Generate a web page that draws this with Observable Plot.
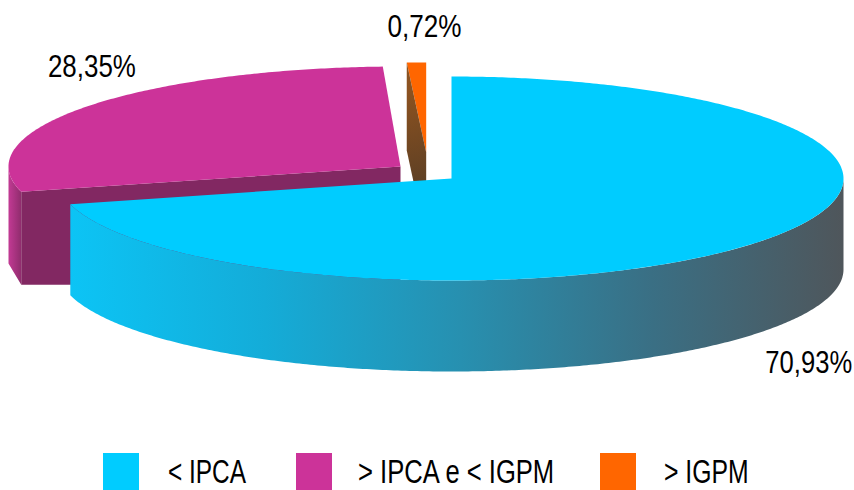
<!DOCTYPE html>
<html><head><meta charset="utf-8">
<script src="https://cdn.jsdelivr.net/npm/d3@7"></script>
<script src="https://cdn.jsdelivr.net/npm/@observablehq/plot@0.6"></script>
<style>
html,body{margin:0;padding:0;background:#fff;overflow:hidden;width:854px;height:490px}
#legend{position:relative;height:45px;width:854px;font-family:"Liberation Sans",sans-serif;color:#000}
#legend i{position:absolute;top:8px;width:36px;height:37px;display:block}
#legend span{position:absolute;top:10px;font-size:33px;line-height:33px;height:33px;white-space:pre;transform-origin:0 0}
</style></head><body>
<div id="chart"></div><div id="legend"></div>
<script>
const categories = ["< IPCA", "> IPCA e < IGPM", "> IGPM"];
const values = [70.93, 28.35, 0.72];
const labels = ["70,93%", "28,35%", "0,72%"];
const colors = ["#00ccff", "#cc3399", "#ff6600"];

// Projection of each exploded slice: centre, radii (left/right), extrusion depth, label offset and horizontal squeeze
const W = 854, H = 445;
const geom = [
  {cx: 451, cy: 178, rx: 392, rxL: 394, ry: 102, depth: 91, dx: 47, dy: 31, sq: 0.8},
  {cx: 400, cy: 166, rx: 392, rxL: 392, ry: 100, depth: 93, dx: 7, dy: -40, sq: 0.81},
  {cx: 425.7, cy: 152, rx: 430, rxL: 430, ry: 90, depth: 88, dx: 8, dy: -36, sq: 0.816}
];
const total = d3.sum(values);
let acc = 0;
const slices = values.map((v, i) => {
  const a0 = acc / total * 2 * Math.PI; acc += v;
  return {...geom[i], a0, a1: acc / total * 2 * Math.PI, i};
});
const pt = (s, a, z = 0) => {
  const sn = Math.sin(a);
  return {x: s.cx + (sn < 0 ? s.rxL : s.rx) * sn, y: s.cy - s.ry * Math.cos(a) + z};
};
const arc = (s, a0, a1, z = 0) => {
  const n = Math.max(2, Math.ceil(Math.abs(a1 - a0) / 0.01));
  return d3.range(n + 1).map(k => pt(s, a0 + (a1 - a0) * k / n, z));
};
const tip = (s, z = 0) => ({x: s.cx, y: s.cy + z});
const poly = (pts, fill) => Plot.line(pts, {x: "x", y: "y", fill, stroke: "none", curve: "linear"});
const [blue, mag, ora] = slices;
const deg = d => d * Math.PI / 180;

const defs = () => {
  const d = d3.create("svg:defs");
  const grad = (id, x1, y1, x2, y2, stops) => {
    const g = d.append("linearGradient").attr("id", id).attr("gradientUnits", "userSpaceOnUse")
      .attr("x1", x1).attr("y1", y1).attr("x2", x2).attr("y2", y2);
    stops.forEach(([o, c]) => g.append("stop").attr("offset", o).attr("stop-color", c));
  };
  grad("wallBlue", 70, 270, 843, 240, [[0, "#0cc4f5"], [.25, "#14acd8"], [.5, "#2790b0"], [.75, "#3a6f84"], [1, "#4f565b"]]);
  grad("wallMag", 8, 0, 21, 0, [[0, "#c23a94"], [1, "#8e2c6c"]]);
  grad("wallOra", 406, 90, 426, 180, [[0, "#8c5220"], [1, "#5f4024"]]);
  return d.node();
};

const magCorner = pt(mag, mag.a0, mag.depth);
const marks = [
  defs,
  // magenta
  poly([...arc(mag, mag.a0, deg(270)), pt(mag, deg(270), mag.depth + 4), magCorner], "url(#wallMag)"),
  poly([pt(mag, mag.a0), tip(mag), {x: mag.cx, y: magCorner.y}, magCorner], "#822862"),
  poly([tip(mag), ...arc(mag, mag.a0, mag.a1)], colors[1]),
  // orange
  poly([tip(ora), ...arc(ora, ora.a0, ora.a1)], colors[2]),
  poly([pt(ora, ora.a0), tip(ora), tip(ora, ora.depth), pt(ora, ora.a0, ora.depth)], "url(#wallOra)"),
  // blue
  poly([...arc(blue, deg(90), blue.a1), ...arc(blue, blue.a1, deg(90), blue.depth)], "url(#wallBlue)"),
  poly([tip(blue), ...arc(blue, blue.a0, blue.a1)], colors[0]),
  // labels
  ...slices.map((s, i) => {
    const mid = (s.a0 + s.a1) / 2;
    const p = pt(s, mid, Math.cos(mid) < 0 ? s.depth : 0);
    return Plot.text([labels[i]], {x: () => p.x, y: () => p.y, text: d => d, dx: s.dx, dy: s.dy,
      fontSize: 32, fill: "#000", stroke: "none", fontFamily: "Liberation Sans",
      render(index, scales, values, dims, ctx, next) {
        const g = next(index, scales, values, dims, ctx);
        g.querySelectorAll("text").forEach(t => {
          t.setAttribute("transform", `${t.getAttribute("transform") || ""} scale(${s.sq},1)`);
        });
        return g;
      }});
  })
];
const chart = Plot.plot({
  width: W, height: H, margin: 0,
  x: {type: "linear", domain: [0, W], range: [0, W], axis: null},
  y: {type: "linear", domain: [0, H], range: [0, H], axis: null},
  style: {background: "transparent", overflow: "visible"},
  marks
});
document.getElementById("chart").appendChild(chart);
chart.style.display = "block";

// Legend below the plot
const lx = [103, 296, 600], tx = [168, 358, 664], sx = [0.74, 0.775, 0.75];
const leg = document.getElementById("legend");
categories.forEach((c, i) => {
  const sw = document.createElement("i"); sw.style.left = lx[i] + "px"; sw.style.background = colors[i]; leg.appendChild(sw);
  const t = document.createElement("span"); t.textContent = c; t.style.left = tx[i] + "px";
  t.style.transform = `scaleX(${sx[i]})`; leg.appendChild(t);
});
</script></body></html>
